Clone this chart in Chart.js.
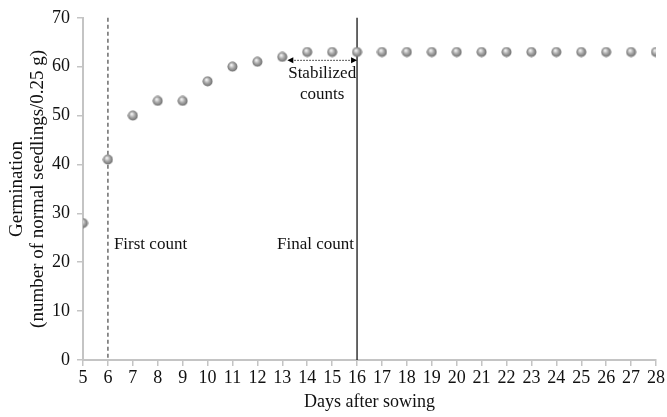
<!DOCTYPE html>
<html>
<head>
<meta charset="utf-8">
<script src="https://cdn.jsdelivr.net/npm/chart.js@4"></script>
<style>
  html, body { margin: 0; padding: 0; background: #fff; }
  #wrap { width: 667px; height: 417px; }
</style>
</head>
<body>
<div id="wrap"><canvas id="myChart" width="667" height="417"></canvas></div>
<script>
const days = [5, 6, 7, 8, 9, 10, 11, 12, 13, 14, 15, 16, 17, 18, 19, 20, 21, 22, 23, 24, 25, 26, 27, 28];
const germination = [28, 41, 50, 53, 53, 57, 60, 61, 62, 63, 63, 63, 63, 63, 63, 63, 63, 63, 63, 63, 63, 63, 63, 63];
const yTicks = [0, 10, 20, 30, 40, 50, 60, 70];

// marker positions (days) and the annotation text
const firstCountDay = 6;
const finalCountDay = 16;
const stabilizedStart = 13.2;
const stabilizedLevel = 61.3;

const serif = "'Liberation Serif', 'Times New Roman', serif";

// grey sphere used as point style
const ball = document.createElement('canvas');
ball.width = 11; ball.height = 11;
(function () {
  const c = ball.getContext('2d');
  const g = c.createRadialGradient(4.3, 3.8, 0.5, 5.5, 5.5, 5.5);
  g.addColorStop(0, '#f2f2f2');
  g.addColorStop(0.45, '#a8a8a8');
  g.addColorStop(0.9, '#707070');
  g.addColorStop(1, 'rgba(110,110,110,0.6)');
  c.fillStyle = g;
  c.beginPath();
  c.arc(5.5, 5.5, 5, 0, Math.PI * 2);
  c.fill();
})();

const markers = {
  id: 'markers',
  beforeDatasetsDraw(chart) {
    const { ctx, chartArea } = chart;
    const x = chart.scales.x, y = chart.scales.y;
    ctx.save();
    // first count (dashed)
    let px = x.getPixelForValue(firstCountDay);
    ctx.strokeStyle = '#6b6b6b';
    ctx.lineWidth = 1.5;
    ctx.setLineDash([4, 3]);
    ctx.beginPath();
    ctx.moveTo(px, chartArea.top);
    ctx.lineTo(px, chartArea.bottom);
    ctx.stroke();
    // final count (solid)
    px = x.getPixelForValue(finalCountDay);
    ctx.setLineDash([]);
    ctx.strokeStyle = '#000';
    ctx.lineWidth = 1.2;
    ctx.beginPath();
    ctx.moveTo(px, chartArea.top);
    ctx.lineTo(px, chartArea.bottom);
    ctx.stroke();
    // stabilized arrow
    const x1 = x.getPixelForValue(stabilizedStart);
    const x2 = x.getPixelForValue(finalCountDay);
    const ay = y.getPixelForValue(stabilizedLevel);
    ctx.lineWidth = 1;
    ctx.setLineDash([1.5, 1.5]);
    ctx.strokeStyle = '#222';
    ctx.beginPath();
    ctx.moveTo(x1 + 4, ay);
    ctx.lineTo(x2 - 4, ay);
    ctx.stroke();
    ctx.setLineDash([]);
    ctx.fillStyle = '#000';
    ctx.beginPath();
    ctx.moveTo(x1, ay); ctx.lineTo(x1 + 6, ay - 3); ctx.lineTo(x1 + 6, ay + 3); ctx.closePath();
    ctx.fill();
    ctx.beginPath();
    ctx.moveTo(x2, ay); ctx.lineTo(x2 - 6, ay - 3); ctx.lineTo(x2 - 6, ay + 3); ctx.closePath();
    ctx.fill();
    ctx.restore();
  },
  afterDatasetsDraw(chart) {
    const { ctx } = chart;
    const x = chart.scales.x, y = chart.scales.y;
    ctx.save();
    ctx.fillStyle = '#111';
    ctx.font = '17px ' + serif;
    ctx.textBaseline = 'middle';
    ctx.textAlign = 'left';
    ctx.fillText('First count', x.getPixelForValue(firstCountDay) + 6, y.getPixelForValue(23.6));
    ctx.textAlign = 'right';
    ctx.fillText('Final count', x.getPixelForValue(finalCountDay) - 3, y.getPixelForValue(23.6));
    ctx.textAlign = 'center';
    ctx.fillText('Stabilized', x.getPixelForValue(14.6), y.getPixelForValue(58.7));
    ctx.fillText('counts', x.getPixelForValue(14.6), y.getPixelForValue(54.4));
    ctx.restore();
  }
};

const ctx = document.getElementById('myChart');

new Chart(ctx, {
  type: 'scatter',
  data: {
    datasets: [{
      label: 'Germination',
      data: days.map((d, i) => ({ x: d, y: germination[i] })),
      pointStyle: ball,
      pointRadius: 5,
      pointHoverRadius: 5
    }]
  },
  options: {
    responsive: false,
    animation: false,
    events: [],
    layout: { padding: { top: 16, right: 11, left: 0, bottom: 0 } },
    plugins: {
      legend: { display: false },
      tooltip: { enabled: false }
    },
    scales: {
      x: {
        type: 'linear',
        min: 5,
        max: 28,
        afterBuildTicks: s => { s.ticks = days.map(v => ({ value: v })); },
        ticks: { color: '#111', font: { family: serif, size: 18 }, padding: 1, maxRotation: 0, autoSkip: false },
        grid: { display: true, drawOnChartArea: false, drawTicks: true, tickLength: 6, color: '#c4c4c4', lineWidth: 1.5 },
        border: { color: '#c4c4c4', width: 2 },
        title: { display: true, text: 'Days after sowing', color: '#111', font: { family: serif, size: 18 }, padding: { top: 0 } },
        afterFit: s => { s.height = 57; }
      },
      y: {
        min: 0,
        max: 70,
        afterBuildTicks: s => { s.ticks = yTicks.map(v => ({ value: v })); },
        ticks: { color: '#111', font: { family: serif, size: 18 }, padding: 7 },
        grid: { display: true, drawOnChartArea: false, drawTicks: true, tickLength: 6, color: '#c4c4c4', lineWidth: 1.5 },
        border: { color: '#c4c4c4', width: 2 },
        title: { display: true, text: ['Germination', '(number of normal seedlings/0.25 g)'], color: '#111', font: { family: serif, size: 19, lineHeight: 1.1 }, padding: { top: 7, bottom: 0 } },
        afterFit: s => { s.width = 83; }
      }
    }
  },
  plugins: [markers]
});
</script>
</body>
</html>
